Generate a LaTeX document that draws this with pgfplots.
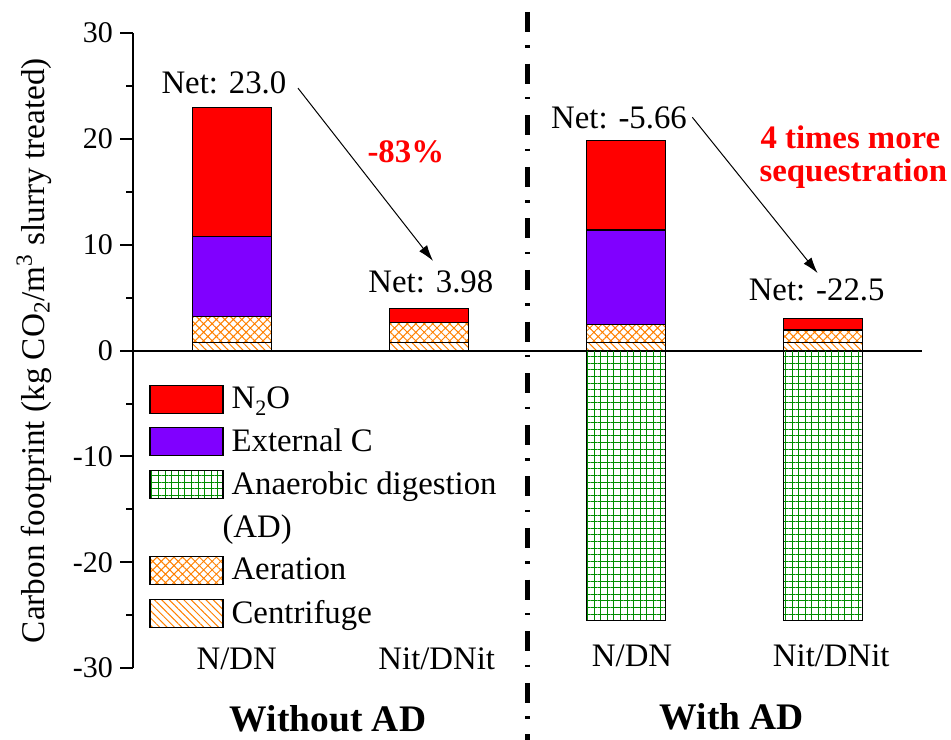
\documentclass[border=0pt]{standalone}
\usepackage{fontspec}
\setmainfont{Liberation Serif}
\usepackage{pgfplots}
\pgfplotsset{compat=1.18}
\usetikzlibrary{patterns.meta,arrows.meta}
\definecolor{cN}{RGB}{255,0,0}
\definecolor{cC}{RGB}{128,0,255}
\definecolor{cG}{RGB}{0,140,0}
\definecolor{cO}{RGB}{255,128,0}
\pgfplotsset{
  base/.style={scale only axis, width=394.5bp, height=317.5bp, xmin=0.5, xmax=4.5, ymin=-30, ymax=30, clip=false},
  mybox/.style={legend image code/.code={\draw[line width=0.6bp,draw=black,#1] (0bp,-7bp) rectangle (36.5bp,7bp);}},
}
\begin{document}
\begin{tikzpicture}[font=\fontsize{16.4bp}{19.7bp}\selectfont]
\begin{axis}[base,
  axis x line=middle, axis y line=left,
  axis line style={-, line width=1bp, black},
  xtick=\empty,
  ytick={-30,-20,...,30}, minor ytick={-25,-15,...,25},
  yticklabels={-30,-20,-10,0,10,20,30},
  tick align=outside,
  major tick length=6.5bp, minor tick length=3.5bp,
  tick style={line width=1bp, black},
  yticklabel style={font=\fontsize{15bp}{18bp}\selectfont},
  every axis y label/.style={at={(axis description cs:-0.1255,0.5)}, rotate=90, anchor=center},
  ylabel={Carbon footprint (kg CO\textsubscript{2}/m\textsuperscript{3} slurry treated)},
  ylabel style={font=\fontsize{16.6bp}{19bp}\selectfont},
  ybar stacked, bar width=39.5bp,
  legend style={at={(axis cs:0.581,-3.0)}, anchor=north west, draw=none, fill=none, inner sep=0pt, row sep=4.7bp, font=\fontsize{16.4bp}{19.7bp}\selectfont, /tikz/every even column/.append style={column sep=5bp}},
  legend cell align=left,
]
% Centrifuge
\addplot[forget plot, draw=black, line width=0.6bp, pattern={Lines[angle=-45,distance=2.6bp,line width=0.5bp]}, pattern color=cO]
  coordinates {(1,0.8) (2,0.8) (3,0.8) (4,0.8)};
% Aeration
\addplot[forget plot, draw=black, line width=0.6bp, pattern={Hatch[angle=45,distance=3bp,line width=0.5bp]}, pattern color=cO]
  coordinates {(1,2.4) (2,1.85) (3,1.65) (4,1.15)};
% External C
\addplot[forget plot, draw=black, line width=0.6bp, fill=cC]
  coordinates {(1,7.55) (2,0) (3,8.95) (4,0)};
% N2O
\addplot[forget plot, draw=black, line width=0.6bp, fill=cN]
  coordinates {(1,12.25) (2,1.33) (3,8.44) (4,1.05)};

\addlegendimage{mybox={fill=cN}}
\addlegendentry{\hspace*{2bp}N\raisebox{-0.45ex}{\fontsize{11bp}{12bp}\selectfont 2}O}
\addlegendimage{mybox={fill=cC}}
\addlegendentry{\hspace*{2bp}External C}
\addlegendimage{mybox={pattern={Hatch[angle=0,distance=3.3bp,line width=0.5bp]},pattern color=cG}}
\addlegendentry{\hspace*{2bp}Anaerobic digestion}
\addlegendimage{empty legend}
\addlegendentry{\hspace*{-2.5bp}(AD)}
\addlegendimage{mybox={pattern={Hatch[angle=45,distance=3bp,line width=0.5bp]},pattern color=cO}}
\addlegendentry{\hspace*{2bp}Aeration}
\addlegendimage{mybox={pattern={Lines[angle=-45,distance=2.6bp,line width=0.5bp]},pattern color=cO}}
\addlegendentry{\hspace*{2bp}Centrifuge}

\node[anchor=base] at (axis cs:0.961,24.25) {Net: 23.0};
\node[anchor=base] at (axis cs:2.01,5.46) {Net: 3.98};
\node[anchor=base] at (axis cs:2.964,21.0) {Net: -5.66};
\node[anchor=base] at (axis cs:3.966,4.73) {Net: -22.5};
\node[anchor=base, text=cN, font=\fontsize{16.4bp}{19.7bp}\selectfont\bfseries] at (axis cs:1.883,17.73) {-83\%};
\node[anchor=base, text=cN, font=\fontsize{16.4bp}{19.7bp}\selectfont\bfseries] at (axis cs:4.137,19.12) {4 times more};
\node[anchor=base, text=cN, font=\fontsize{16.4bp}{19.7bp}\selectfont\bfseries] at (axis cs:4.152,15.97) {sequestration};
\draw[-{Latex[length=8bp,width=5bp]}, line width=0.5bp] (axis cs:1.3365,24.8) -- (axis cs:2.021,8.48);
\draw[-{Latex[length=8bp,width=5bp]}, line width=0.5bp] (axis cs:3.3355,22.05) -- (axis cs:3.971,7.32);
\node[anchor=base] at (axis cs:1.026,-30.14) {N/DN};
\node[anchor=base] at (axis cs:2.04,-30.14) {Nit/DNit};
\node[anchor=base] at (axis cs:3.03,-29.83) {N/DN};
\node[anchor=base] at (axis cs:4.04,-29.83) {Nit/DNit};
\node[anchor=base, font=\fontsize{18.75bp}{22bp}\selectfont\bfseries] at (axis cs:1.489,-36.0) {Without AD};
\node[anchor=base, font=\fontsize{18.75bp}{22bp}\selectfont\bfseries] at (axis cs:3.537,-35.8) {With AD};
\draw[line width=2.4bp, dash pattern=on 10bp off 6.7bp on 1.2bp off 7.9bp] (axis cs:2.5,32) -- (axis cs:2.5,-36.8);
\coordinate (bbSW) at (axis cs:-0.1743,-36.75);
\coordinate (bbNE) at (axis cs:4.647,33.13);
\end{axis}
\begin{axis}[base, hide axis]
\addplot[ybar, bar width=39.5bp, bar shift=0pt, draw=black, line width=0.6bp, pattern={Hatch[angle=0,distance=3.3bp,line width=0.5bp]}, pattern color=cG]
  coordinates {(3,-25.5) (4,-25.5)};
\end{axis}
\pgfresetboundingbox
\path[use as bounding box] (bbSW) rectangle (bbNE);
\end{tikzpicture}
\end{document}
